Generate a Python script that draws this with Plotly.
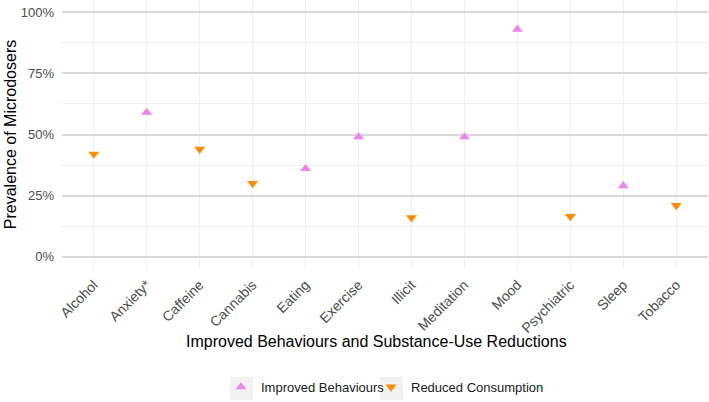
import plotly.graph_objects as go

categories = ["Alcohol", "Anxiety*", "Caffeine", "Cannabis", "Eating", "Exercise",
              "Illicit", "Meditation", "Mood", "Psychiatric", "Sleep", "Tobacco"]
groups = ["Reduced Consumption", "Improved Behaviours", "Reduced Consumption",
          "Reduced Consumption", "Improved Behaviours", "Improved Behaviours",
          "Reduced Consumption", "Improved Behaviours", "Improved Behaviours",
          "Reduced Consumption", "Improved Behaviours", "Reduced Consumption"]
prevalence = [0.42, 0.59, 0.44, 0.30, 0.36, 0.49, 0.16, 0.49, 0.93, 0.165, 0.29, 0.21]

styles = {
    "Improved Behaviours": ("triangle-up", "#EE82EE"),
    "Reduced Consumption": ("triangle-down", "#FF8C00"),
}

fig = go.Figure()
for grp, (sym, col) in styles.items():
    xs = [c for c, g in zip(categories, groups) if g == grp]
    ys = [v for v, g in zip(prevalence, groups) if g == grp]
    fig.add_trace(go.Scatter(
        x=xs, y=ys, mode="markers", name=grp,
        marker={"symbol": sym, "size": 9.5, "color": col, "line": {"width": 0}},
    ))
# empty legend slot so the last entry's text isn't clipped
fig.add_trace(go.Scatter(x=[None], y=[None], mode="markers", name=" ",
                         marker={"opacity": 0}, hoverinfo="skip"))

# grey key backgrounds like ggplot legend keys
for x0 in [230, 380]:
    fig.add_shape(type="rect", xref="paper", yref="paper",
                  x0=(x0 - 62) / 646, x1=(x0 + 23 - 62) / 646,
                  y0=-(400 - 269) / 269, y1=-(377 - 269) / 269,
                  fillcolor="#f2f2f2", line={"width": 0}, layer="below")

fig.add_annotation(text="Improved Behaviours and Substance-Use Reductions",
                   xref="paper", yref="paper", x=(376.5 - 62) / 646,
                   y=-(341 - 269) / 269, xanchor="center", yanchor="middle",
                   showarrow=False, font={"size": 16, "color": "black"})

fig.update_layout(
    width=709, height=402,
    margin={"l": 62, "r": 1, "t": 0, "b": 133},
    plot_bgcolor="white", paper_bgcolor="white",
    font={"family": "Liberation Sans, Arial, sans-serif", "size": 13, "color": "#4d4d4d"},
    showlegend=True,
    legend={"orientation": "h", "x": (221 - 62) / 646, "xanchor": "left", "y": -0.44,
            "yanchor": "middle", "font": {"size": 13, "color": "#1a1a1a"},
            "entrywidth": 105, "entrywidthmode": "pixels",
            "itemwidth": 30, "bgcolor": "rgba(0,0,0,0)"},
    xaxis={
        "categoryorder": "array", "categoryarray": categories,
        "range": [-0.6, 11.6], "tickangle": -45, "automargin": False,
        "tickfont": {"size": 14}, "ticklabelstandoff": 4,
        "showgrid": True, "gridcolor": "#efefef", "gridwidth": 1,
        "zeroline": False, "ticks": "", "showline": False,
    },
    yaxis={
        "range": [-0.05, 1.05], "tickvals": [0, 0.25, 0.5, 0.75, 1.0],
        "tickformat": ".0%", "automargin": False,
        "tickfont": {"size": 13}, "ticklabelstandoff": 7,
        "title": {"text": "Prevalence of Microdosers",
                  "font": {"size": 16, "color": "black"}, "standoff": 0},
        "showgrid": True, "gridcolor": "#d9d9d9", "gridwidth": 1.6,
        "minor": {"tickvals": [0.125, 0.375, 0.625, 0.875], "showgrid": True,
                  "gridcolor": "#f0f0f0", "gridwidth": 1},
        "zeroline": False, "ticks": "", "showline": False,
    },
)

# drop the browser's default 8px page margin so the figure fills the window
fig.write_html("out.html", config={"displayModeBar": False},
               post_script="document.body.style.margin = '0';")
